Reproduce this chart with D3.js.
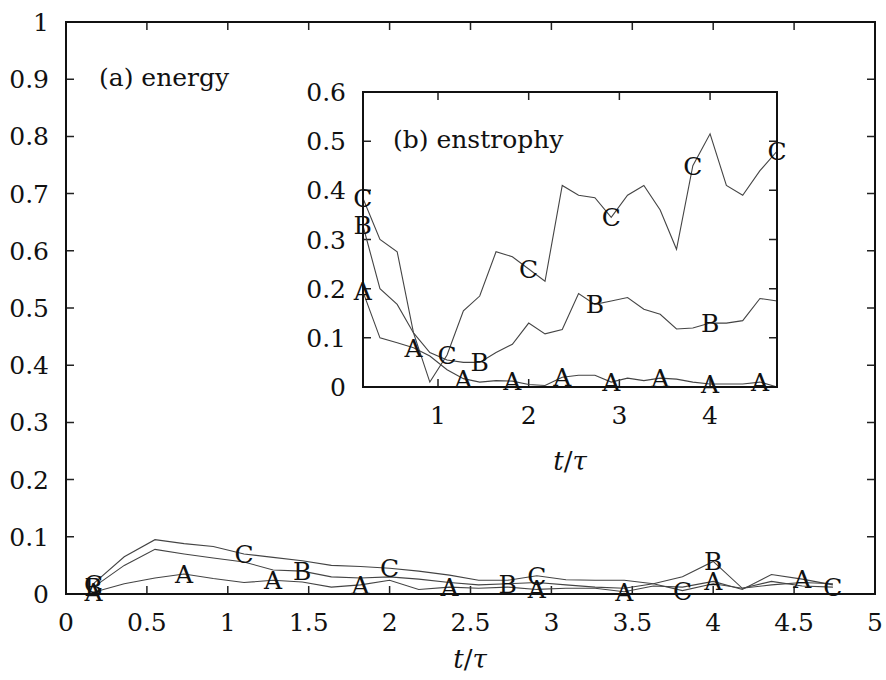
<!DOCTYPE html>
<html>
<head>
<meta charset="utf-8">
<script src="https://cdn.jsdelivr.net/npm/d3@7"></script>
<style>
  body { margin: 0; background: #fff; }
  svg text { font-family: "DejaVu Serif", serif; fill: #111; }
</style>
</head>
<body>
<svg id="chart" width="886" height="680"></svg>
<script>
// sample times (shared by both panels)
const times = [0.17, 0.36, 0.55, 0.73, 0.91, 1.1, 1.28, 1.46, 1.64, 1.82, 2.0, 2.18, 2.37,
  2.55, 2.73, 2.91, 3.09, 3.27, 3.45, 3.63, 3.81, 4.0, 4.18, 4.36, 4.55, 4.74]

// (a) energy
const energyA = [0.003, 0.018, 0.028, 0.035, 0.027, 0.02, 0.024, 0.021, 0.012, 0.016, 0.024, 0.008, 0.012,
  0.01, 0.012, 0.008, 0.01, 0.01, 0.004, 0.014, 0.012, 0.022, 0.008, 0.034, 0.026, 0.016]
const energyB = [0.012, 0.05, 0.078, 0.07, 0.063, 0.056, 0.042, 0.04, 0.03, 0.028, 0.03, 0.026, 0.02,
  0.016, 0.018, 0.02, 0.016, 0.012, 0.01, 0.018, 0.03, 0.057, 0.01, 0.016, 0.02, 0.018]
const energyC = [0.018, 0.065, 0.095, 0.088, 0.083, 0.07, 0.064, 0.058, 0.05, 0.048, 0.045, 0.04, 0.033,
  0.024, 0.024, 0.032, 0.025, 0.024, 0.024, 0.018, 0.006, 0.018, 0.01, 0.022, 0.014, 0.012]

// (b) enstrophy
const enstA = [0.195, 0.1, 0.09, 0.08, 0.063, 0.035, 0.017, 0.01, 0.013, 0.012, 0.005, 0.003, 0.02,
  0.024, 0.024, 0.01, 0.018, 0.013, 0.018, 0.016, 0.01, 0.006, 0.006, 0.006, 0.01, 0.0]
const enstB = [0.33, 0.2, 0.168, 0.11, 0.07, 0.055, 0.05, 0.05, 0.07, 0.087, 0.13, 0.108, 0.117,
  0.19, 0.168, 0.175, 0.182, 0.158, 0.148, 0.118, 0.12, 0.13, 0.13, 0.135, 0.18, 0.175]
const enstC = [0.385, 0.3, 0.275, 0.11, 0.01, 0.065, 0.155, 0.185, 0.275, 0.265, 0.24, 0.215, 0.41,
  0.39, 0.385, 0.345, 0.39, 0.41, 0.36, 0.28, 0.45, 0.515, 0.41, 0.39, 0.44, 0.48]

// letter markers are drawn on every n-th sample
const markEvery = { A: 3, B: 7, C: 5 }

const mainXTicks = d3.range(0, 5.01, 0.5)
const mainYTicks = d3.range(0, 1.01, 0.1)
const insetXTicks = [1, 2, 3, 4]
const insetYTicks = d3.range(0, 0.61, 0.1)

const svg = d3.select("#chart")
const fmt = d => String(+d.toFixed(1))

function drawPanel(opts) {
  const { x, y, xTicks, yTicks, series, title, titlePos, xLabelPos } = opts
  const g = svg.append("g")
  const [x0, x1] = x.range()
  const [y0, y1] = y.range()
  const tick = 8

  // white backing (inset sits on top of the main panel)
  g.append("rect")
    .attr("x", x0).attr("y", y1)
    .attr("width", x1 - x0).attr("height", y0 - y1)
    .attr("fill", "#fff")

  // ticks, mirrored on all four sides
  g.selectAll(".xt").data(xTicks).enter().append("path")
    .attr("d", d => `M${x(d)},${y0}v${-tick}M${x(d)},${y1}v${tick}`)
    .attr("stroke", "#222").attr("stroke-width", 1.5)
  g.selectAll(".yt").data(yTicks).enter().append("path")
    .attr("d", d => `M${x0},${y(d)}h${tick}M${x1},${y(d)}h${-tick}`)
    .attr("stroke", "#222").attr("stroke-width", 1.5)

  g.selectAll(".xl").data(xTicks).enter().append("text")
    .attr("x", d => x(d)).attr("y", y0 + 37)
    .attr("text-anchor", "middle").attr("font-size", 25)
    .text(fmt)
  g.selectAll(".yl").data(yTicks).enter().append("text")
    .attr("x", x0 - 17).attr("y", d => y(d) + 9)
    .attr("text-anchor", "end").attr("font-size", 25)
    .text(fmt)

  // curves
  const line = d3.line().x((d, i) => x(times[i])).y(d => y(d))
  series.forEach(s => {
    g.append("path").datum(s.values)
      .attr("d", line)
      .attr("fill", "none").attr("stroke", "#444").attr("stroke-width", 1.1)
  })
  series.forEach(s => {
    const pts = s.values.map((v, i) => [times[i], v]).filter((d, i) => i % markEvery[s.name] == 0)
    g.selectAll(null).data(pts).enter().append("text")
      .attr("x", d => x(d[0])).attr("y", d => y(d[1]) + 9)
      .attr("text-anchor", "middle").attr("font-size", 25)
      .text(s.name)
  })

  // frame
  g.append("rect")
    .attr("x", x0).attr("y", y1)
    .attr("width", x1 - x0).attr("height", y0 - y1)
    .attr("fill", "none").attr("stroke", "#111").attr("stroke-width", 2)

  g.append("text").attr("x", titlePos[0]).attr("y", titlePos[1])
    .attr("font-size", 25).text(title)

  const xl = g.append("text").attr("x", xLabelPos[0]).attr("y", xLabelPos[1])
    .attr("text-anchor", "middle").attr("font-size", 26)
  xl.append("tspan").attr("font-style", "italic").text("t")
  xl.append("tspan").text("/")
  xl.append("tspan").attr("font-style", "italic").text("τ")
}

drawPanel({
  x: d3.scaleLinear().domain([0, 5]).range([66, 875]),
  y: d3.scaleLinear().domain([0, 1]).range([594, 22]),
  xTicks: mainXTicks, yTicks: mainYTicks,
  series: [{ name: "A", values: energyA }, { name: "B", values: energyB }, { name: "C", values: energyC }],
  title: "(a) energy", titlePos: [99, 86], xLabelPos: [470, 668]
})

drawPanel({
  x: d3.scaleLinear().domain([0.173, 4.738]).range([363, 777]),
  y: d3.scaleLinear().domain([0, 0.6]).range([387, 92]),
  xTicks: insetXTicks, yTicks: insetYTicks,
  series: [{ name: "A", values: enstA }, { name: "B", values: enstB }, { name: "C", values: enstC }],
  title: "(b) enstrophy", titlePos: [393, 148], xLabelPos: [570, 470]
})
</script>
</body>
</html>
